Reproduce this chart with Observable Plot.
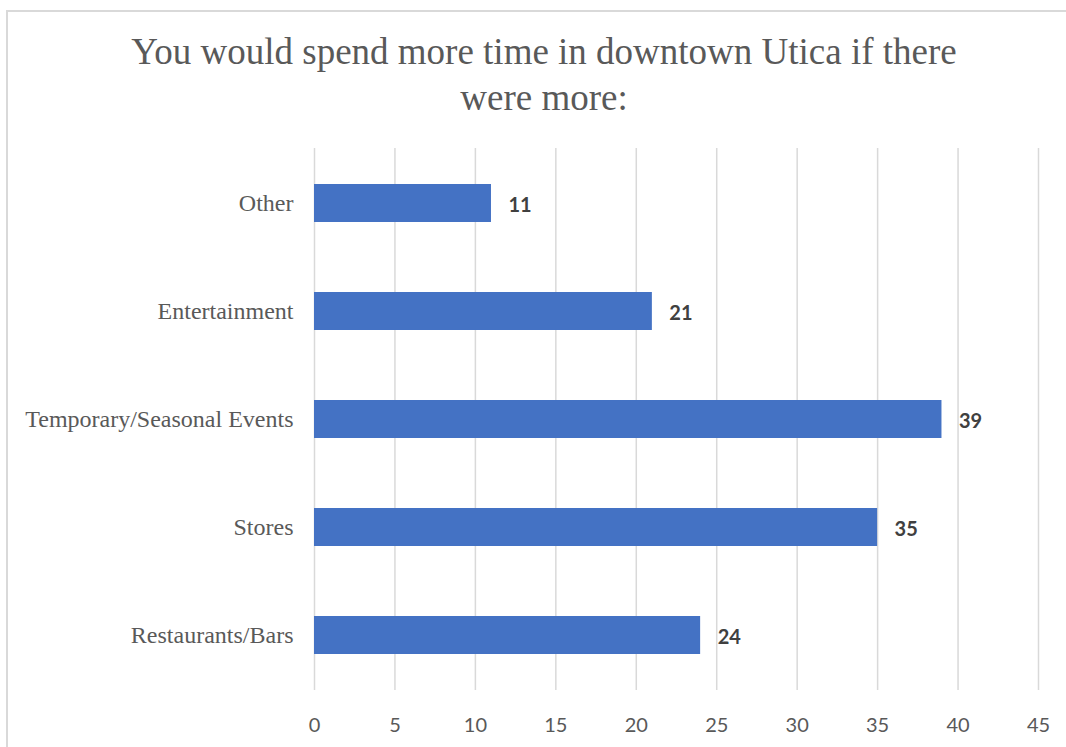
<!DOCTYPE html>
<html>
<head>
<meta charset="utf-8">
<script src="https://cdn.jsdelivr.net/npm/d3@7"></script>
<script src="https://cdn.jsdelivr.net/npm/@observablehq/plot@0.6"></script>
<style>
  html, body { margin: 0; padding: 0; background: #fff; overflow: hidden; width: 1066px; height: 747px; }
  #frame { position: absolute; left: 6px; top: 10px; width: 1100px; height: 800px; border: 2px solid #d9d9d9; box-sizing: border-box; }
  #title { position: absolute; left: 0; top: 29px; width: 1088px; text-align: center; font-family: "Liberation Serif", "Times New Roman", serif; font-size: 37px; line-height: 46px; color: #595959; }
  #chart { position: absolute; left: 0; top: 0; }
</style>
</head>
<body>
<div id="frame"></div>
<div id="chart"></div>
<div id="title">You would spend more time in downtown Utica if there<br>were more:</div>
<script>
const categories = ["Other", "Entertainment", "Temporary/Seasonal Events", "Stores", "Restaurants/Bars"];
const values = [11, 21, 39, 35, 24];
const xTicks = [0, 5, 10, 15, 20, 25, 30, 35, 40, 45];

const data = categories.map((c, i) => ({category: c, value: values[i]}));

const chart = Plot.plot({
  width: 1066,
  height: 747,
  marginLeft: 314,
  marginRight: 28,
  marginTop: 148,
  marginBottom: 57,
  style: {color: "#595959", background: "transparent", overflow: "visible"},
  x: {domain: [0, 45], ticks: xTicks},
  y: {domain: categories, paddingInner: 0.65, paddingOuter: 0.325},
  marks: [
    Plot.gridX(xTicks, {stroke: "#d9d9d9", strokeOpacity: 1, strokeWidth: 1.5}),
    Plot.barX(data, {x: "value", y: "category", fill: "#4472C4"}),
    Plot.text(data, {x: "value", y: "category", text: d => String(d.value), dx: 17, dy: 2, textAnchor: "start",
      fontFamily: "Lato, 'Open Sans', sans-serif", fontWeight: "bold", fontSize: 20, fill: "#404040"}),
    Plot.axisX(xTicks, {tickSize: 0, tickPadding: 27, fontFamily: "Lato, 'Open Sans', sans-serif", fontSize: 20, label: null}),
    Plot.axisY({tickSize: 0, tickPadding: 21, fontFamily: "'Liberation Serif', 'Times New Roman', serif", fontSize: 24, label: null})
  ]
});
document.getElementById("chart").appendChild(chart);
</script>
</body>
</html>
